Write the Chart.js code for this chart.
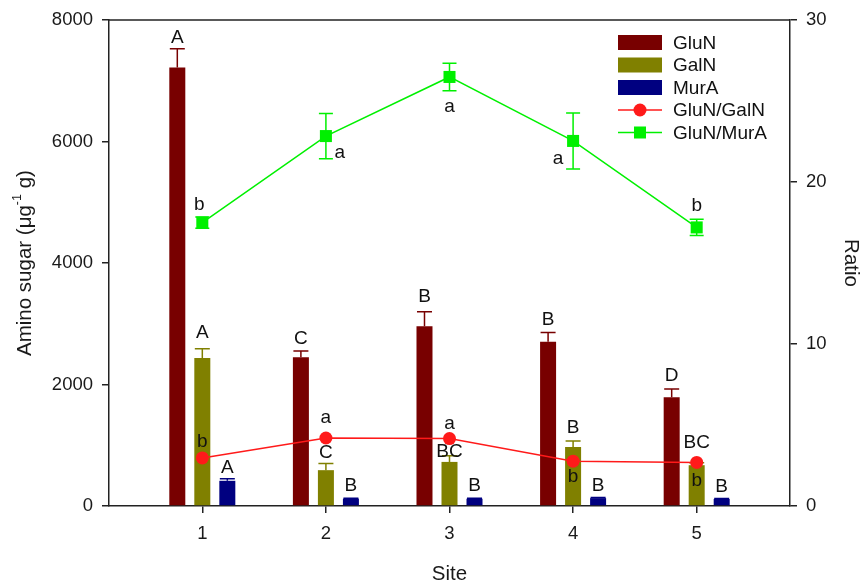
<!DOCTYPE html>
<html><head><meta charset="utf-8">
<script src="https://cdn.jsdelivr.net/npm/chart.js@4.4.1/dist/chart.umd.min.js"></script>
<style>html,body{margin:0;padding:0;background:#fff}#wrap{width:863px;height:588px;position:relative}</style>
</head><body><div id="wrap"><canvas id="c"></canvas></div>
<script>
// ---- data ----
const sites = [1, 2, 3, 4, 5];
const gluN = [7220, 2450, 2960, 2705, 1790];
const gluNErr = [310, 100, 240, 150, 137];
const galN = [2437, 590, 726, 972, 672];
const galNErr = [150, 110, 100, 100, 40];
const murA = [415, 120, 120, 130, 115];
const murAErr = [33, 8, 8, 8, 8];
const ratioGluNGalN = [2.97, 4.2, 4.16, 2.77, 2.69];
const ratioGluNMurA = [17.5, 22.84, 26.49, 22.54, 17.2];
const ratioGluNMurAErr = [0.35, 1.4, 0.85, 1.73, 0.5];
const gluNLetters = ['A', 'C', 'B', 'B', 'D'];
const galNLetters = ['A', 'C', 'BC', 'B', 'BC'];
const murALetters = ['A', 'B', 'B', 'B', 'B'];
const galRatioLetters = ['b', 'a', 'a', 'b', 'b'];
const murRatioLetters = ['b', 'a', 'a', 'a', 'b'];
const yTicksLeft = [0, 2000, 4000, 6000, 8000];
const yTicksRight = [0, 10, 20, 30];

// ---- styles ----
const FONT = '"Liberation Sans", Arial, sans-serif';
Chart.defaults.font.family = FONT;
Chart.defaults.font.size = 18.5;
Chart.defaults.color = '#1a1a1a';
const AXIS = '#222';
const TXT = '#1a1a1a';
const C_GLUN = '#780000', C_GALN = '#808000', C_MURA = '#000080', C_RED = '#ff1a1a', C_GREEN = '#00f000';

const pts = arr => sites.map((s, i) => ({x: s, y: arr[i]}));

function drawErr(chart, ds, meta) {
  const ys = chart.scales[meta.yAxisID];
  const ctx = chart.ctx;
  ctx.save();
  ctx.strokeStyle = ds.errColor; ctx.lineWidth = 1.5;
  meta.data.forEach((el, i) => {
    const v = ds.data[i].y, e = ds.errors[i];
    const top = ys.getPixelForValue(v + e);
    const bot = ds.errMode === 'up' ? ys.getPixelForValue(v) : ys.getPixelForValue(v - e);
    const hw = ds.capHalf;
    ctx.beginPath();
    ctx.moveTo(el.x, top); ctx.lineTo(el.x, bot);
    ctx.moveTo(el.x - hw, top); ctx.lineTo(el.x + hw, top);
    if (ds.errMode !== 'up') { ctx.moveTo(el.x - hw, bot); ctx.lineTo(el.x + hw, bot); }
    ctx.stroke();
  });
  ctx.restore();
}

const decor = {
  id: 'decor',
  beforeDatasetDraw(chart, args) {
    const ds = chart.data.datasets[args.index];
    if (ds.errors && ds.errMode === 'both') drawErr(chart, ds, args.meta);
  },
  afterDatasetDraw(chart, args) {
    const ds = chart.data.datasets[args.index];
    if (ds.errors && ds.errMode === 'up') drawErr(chart, ds, args.meta);
  },
  afterDraw(chart) {
    const ctx = chart.ctx, ca = chart.chartArea;
    ctx.save();
    // top frame line
    ctx.strokeStyle = AXIS; ctx.lineWidth = 1.5;
    ctx.beginPath(); ctx.moveTo(ca.left, ca.top); ctx.lineTo(ca.right, ca.top); ctx.stroke();

    // left axis title with superscript
    ctx.save();
    ctx.translate(25, (ca.top + ca.bottom) / 2);
    ctx.rotate(-Math.PI / 2);
    ctx.fillStyle = TXT; ctx.textBaseline = 'middle'; ctx.textAlign = 'left';
    const big = '20.5px ' + FONT, small = '12.5px ' + FONT;
    const p1 = 'Amino sugar (μg', sup = '-1', p2 = ' g)';
    ctx.font = big; const w1 = ctx.measureText(p1).width, w3 = ctx.measureText(p2).width;
    ctx.font = small; const w2 = ctx.measureText(sup).width;
    let x = -(w1 + w2 + w3) / 2;
    ctx.font = big; ctx.fillText(p1, x, 0); x += w1;
    ctx.font = small; ctx.fillText(sup, x, -7); x += w2;
    ctx.font = big; ctx.fillText(p2, x, 0);
    ctx.restore();

    // letters
    ctx.fillStyle = '#111';
    ctx.font = '19px ' + FONT;
    ctx.textAlign = 'center'; ctx.textBaseline = 'middle';
    chart.data.datasets.forEach((ds, di) => {
      if (!ds.letters) return;
      const meta = chart.getDatasetMeta(di);
      const ys = chart.scales[meta.yAxisID];
      meta.data.forEach((el, i) => {
        const v = ds.data[i].y;
        const e = (ds.errors && ds.type !== 'line') ? ds.errors[i] : 0;
        const ref = ds.type === 'line' ? el.y : ys.getPixelForValue(v + e);
        const o = ds.letterOffsets[i];
        ctx.fillText(ds.letters[i], el.x + o[0], ref + o[1]);
      });
    });
    // legend
    const lx0 = 618, lx1 = 662, tx = 673;
    ctx.textAlign = 'left';
    const items = [
      {t: 'GluN', box: C_GLUN}, {t: 'GalN', box: C_GALN}, {t: 'MurA', box: C_MURA},
      {t: 'GluN/GalN', line: C_RED, mk: 'circle'}, {t: 'GluN/MurA', line: C_GREEN, mk: 'rect'}
    ];
    items.forEach((it, i) => {
      const y = 42.5 + i * 22.5;
      if (it.box) {
        ctx.fillStyle = it.box; ctx.fillRect(lx0, y - 7.5, lx1 - lx0, 15);
      } else {
        ctx.strokeStyle = it.line; ctx.lineWidth = 1.5;
        ctx.beginPath(); ctx.moveTo(lx0, y); ctx.lineTo(lx1, y); ctx.stroke();
        ctx.fillStyle = it.line;
        const cx = (lx0 + lx1) / 2;
        if (it.mk === 'circle') { ctx.beginPath(); ctx.arc(cx, y, 6.5, 0, Math.PI * 2); ctx.fill(); }
        else ctx.fillRect(cx - 6, y - 6, 12, 12);
      }
      ctx.fillStyle = '#111';
      ctx.fillText(it.t, tx, y + 1);
    });
    ctx.restore();
  }
};

const axisGrid = {display: true, drawOnChartArea: false, drawTicks: true, tickLength: 7, color: AXIS, lineWidth: 1.5, offset: false};
const axisBorder = {display: true, color: AXIS, width: 1.5};
const plain = v => String(v);

new Chart(document.getElementById('c'), {
  type: 'bar',
  data: {
    datasets: [
      {type: 'line', label: 'GluN/GalN', data: pts(ratioGluNGalN), yAxisID: 'y1', order: 1,
       borderColor: C_RED, backgroundColor: C_RED, borderWidth: 1.5, pointStyle: 'circle', pointRadius: 6.5,
       pointBorderWidth: 0, letters: galRatioLetters,
       letterOffsets: [[0, -16], [0, -20], [0, -15], [0, 16], [0, 18]]},
      {type: 'line', label: 'GluN/MurA', data: pts(ratioGluNMurA), yAxisID: 'y1', order: 2,
       borderColor: C_GREEN, backgroundColor: C_GREEN, borderWidth: 1.5, pointStyle: 'rect', pointRadius: 8.5,
       pointBorderWidth: 0, errors: ratioGluNMurAErr, errMode: 'both', errColor: C_GREEN, capHalf: 7,
       letters: murRatioLetters,
       letterOffsets: [[-3, -18], [14, 17], [0, 30], [-15, 18], [0, -22]]},
      {label: 'GluN', data: pts(gluN), yAxisID: 'y', order: 5, backgroundColor: C_GLUN, borderWidth: 0,
       errors: gluNErr, errMode: 'up', errColor: C_GLUN, capHalf: 7.5, letters: gluNLetters,
       letterOffsets: [[0, -11], [0, -12], [0, -15], [0, -13], [0, -13]]},
      {label: 'GalN', data: pts(galN), yAxisID: 'y', order: 6, backgroundColor: C_GALN, borderWidth: 0,
       errors: galNErr, errMode: 'up', errColor: C_GALN, capHalf: 7.5, letters: galNLetters,
       letterOffsets: [[0, -16], [0, -11], [0, -4], [0, -13], [0, -20]]},
      {label: 'MurA', data: pts(murA), yAxisID: 'y', order: 7, backgroundColor: C_MURA, borderWidth: 0,
       errors: murAErr, errMode: 'up', errColor: C_MURA, capHalf: 7.5, letters: murALetters,
       letterOffsets: [[0, -11], [0, -12], [0, -12], [0, -12], [0, -12]]}
    ]
  },
  options: {
    responsive: true, maintainAspectRatio: false, animation: false,
    layout: {padding: {top: 18, left: 0, right: 0, bottom: 0}},
    datasets: {bar: {categoryPercentage: 0.607, barPercentage: 0.64}},
    plugins: {legend: {display: false}, tooltip: {enabled: false}},
    scales: {
      x: {type: 'linear', min: 0.245, max: 5.755, offset: false, grid: axisGrid, border: axisBorder,
          afterBuildTicks: s => { s.ticks = sites.map(v => ({value: v})); },
          ticks: {padding: 10, color: TXT, callback: plain},
          title: {display: true, text: 'Site', font: {size: 20.5}, padding: {top: 2, bottom: 1}, color: TXT},
          afterFit: s => { s.height = 82; }},
      y: {type: 'linear', position: 'left', min: 0, max: 8000, grid: axisGrid, border: axisBorder,
          afterBuildTicks: s => { s.ticks = yTicksLeft.map(v => ({value: v})); },
          ticks: {padding: 9, color: TXT, callback: plain},
          title: {display: false},
          afterFit: s => { s.width = 109; }},
      y1: {type: 'linear', position: 'right', min: 0, max: 30, grid: axisGrid, border: axisBorder,
          afterBuildTicks: s => { s.ticks = yTicksRight.map(v => ({value: v})); },
          ticks: {padding: 9, color: TXT, callback: plain},
          title: {display: true, text: 'Ratio', font: {size: 20.5}, padding: {top: 0, bottom: 0}, color: TXT},
          afterFit: s => { s.width = 73; }}
    }
  },
  plugins: [decor]
});
</script>
</body></html>
